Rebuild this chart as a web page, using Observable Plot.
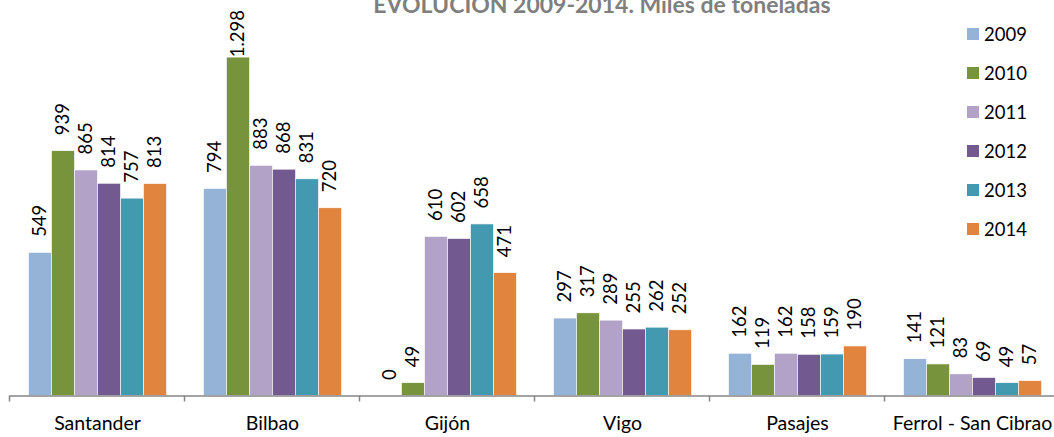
<!DOCTYPE html>
<html>
<head>
<meta charset="utf-8">
<script src="https://cdn.jsdelivr.net/npm/d3@7"></script>
<script src="https://cdn.jsdelivr.net/npm/@observablehq/plot@0.6"></script>
<style>
  html, body { margin: 0; padding: 0; background: #ffffff; overflow: hidden; }
  #wrap { position: relative; width: 1054px; height: 437px; font-family: Lato, sans-serif; }
  #title { position: absolute; left: 602px; top: -7px; transform: translateX(-50%); white-space: nowrap;
           font-size: 23px; line-height: 23px; font-weight: bold; color: #7f7f7f; }
  #chart { position: absolute; left: 0; top: 0; }
  #legend { position: absolute; left: 967px; top: 0; }
  .row { position: absolute; left: 0; display: flex; align-items: center; height: 20px; white-space: nowrap; }
  .sw { width: 12px; height: 12px; margin-right: 5px; }
  .lab { font-size: 18.5px; line-height: 20px; color: #000; }
</style>
</head>
<body>
<div id="wrap">
  <div id="chart"></div>
  <div id="title"></div>
  <div id="legend"></div>
</div>
<script>
const titleText = "EVOLUCIÓN 2009-2014. Miles de toneladas";
const ports = ["Santander", "Bilbao", "Gijón", "Vigo", "Pasajes", "Ferrol - San Cibrao"];
const years = ["2009", "2010", "2011", "2012", "2013", "2014"];
const v2009 = [549, 794, 0, 297, 162, 141];
const v2010 = [939, 1298, 49, 317, 119, 121];
const v2011 = [865, 883, 610, 289, 162, 83];
const v2012 = [814, 868, 602, 255, 158, 69];
const v2013 = [757, 831, 658, 262, 159, 49];
const v2014 = [813, 720, 471, 252, 190, 57];
const colors = ["#95b3d7", "#77933c", "#b3a2c7", "#72598f", "#4399b0", "#e0843e"];

const series = [v2009, v2010, v2011, v2012, v2013, v2014];
const data = ports.flatMap((p, i) => years.map((yr, j) => ({port: p, year: yr, value: series[j][i]})));
const fmt = d3.formatLocale({decimal: ",", thousands: ".", grouping: [3], currency: ["", "€"]}).format(",d");

document.getElementById("title").textContent = titleText;

const chart = Plot.plot({
  width: 1054,
  height: 437,
  marginTop: 30.5,
  marginBottom: 41.5,
  marginLeft: 9.5,
  marginRight: -5.5,
  style: {fontFamily: "Lato, sans-serif", fontSize: "19.5px", color: "#000", background: "transparent"},
  fx: {domain: ports, paddingInner: 0.2, paddingOuter: 0.1, axis: "bottom", tickSize: 0, tickPadding: 20, label: null},
  x: {domain: years, padding: 0, axis: null},
  y: {domain: [0, 1400], axis: null},
  color: {domain: years, range: colors},
  marks: [
    Plot.barY(data, {fx: "port", x: "year", y: "value", fill: "year", stroke: "#ffffff", strokeWidth: 0.6}),
    Plot.ruleY([0], {insetLeft: -17.5, insetRight: -17.5, stroke: "#868686", strokeWidth: 1.5}),
    Plot.text(data, {fx: "port", x: "year", y: "value", text: d => fmt(d.value), rotate: -90,
      textAnchor: "start", lineAnchor: "middle", dy: -16, fontSize: 18.5, fill: "#000"})
  ]
});
document.getElementById("chart").appendChild(chart);

// keep value labels inside the picture (like the original, which pulls the tallest label down)
const svgTop = chart.getBoundingClientRect().top;
d3.select(chart).selectAll('g[aria-label="text"] text').each(function() {
  const top = this.getBoundingClientRect().top - svgTop;
  const minTop = 10;
  if (top < minTop) {
    const t = this.getAttribute("transform") || "";
    this.setAttribute("transform", `translate(0,${minTop - top}) ${t}`);
  }
});

// category boundary ticks on the axis line, derived from the facet scale
const fxs = chart.scale("fx");
const ys = chart.scale("y");
const step = fxs.step ?? fxs.bandwidth / 0.8;
const gap = step - fxs.bandwidth;
const y0 = ys.apply(0);
const bounds = ports.map(p => fxs.apply(p) - gap / 2).concat([fxs.apply(ports[ports.length - 1]) + fxs.bandwidth + gap / 2]);
d3.select(chart).append("g")
  .selectAll("line").data(bounds).join("line")
  .attr("x1", d => d).attr("x2", d => d)
  .attr("y1", y0).attr("y2", y0 + 6)
  .attr("stroke", "#868686").attr("stroke-width", 1.5);

// legend
const legend = d3.select("#legend");
years.forEach((yr, i) => {
  const row = legend.append("div").attr("class", "row").style("top", (24 + i * 39) + "px");
  row.append("div").attr("class", "sw").style("background", colors[i]);
  row.append("div").attr("class", "lab").text(yr);
});
</script>
</body>
</html>
